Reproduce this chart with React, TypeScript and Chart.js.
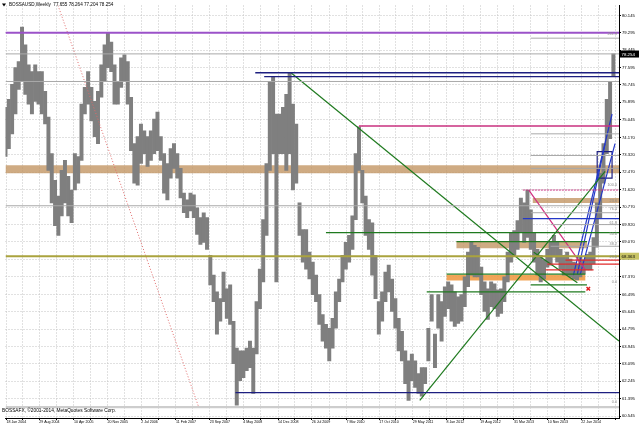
import React, { useEffect, useRef } from "react";
import { Chart, registerables } from "chart.js";

Chart.register(...registerables);

const HIGH = [
  75.65, 76.04, 76.77, 77.59, 77.88, 79.57, 78.70, 77.73, 77.39, 77.73,
  77.39, 77.39, 76.43, 75.17, 73.38, 72.08, 71.31, 72.56, 73.05, 72.27,
  71.60, 73.38, 73.24, 75.80, 76.62, 77.39, 76.62, 75.94, 76.43, 77.73,
  78.70, 79.28, 78.84, 77.73, 76.91, 78.07, 78.21, 77.88, 76.14, 73.87,
  74.21, 74.83, 74.50, 74.21, 74.50, 75.07, 75.41, 74.21, 73.38, 72.90,
  73.63, 73.87, 73.38, 72.66, 71.45, 71.12, 71.45, 71.36, 70.73, 70.25,
  70.49, 70.25, 68.41, 67.44, 66.62, 66.29, 67.59, 66.77, 66.96, 65.18,
  63.87, 63.73, 63.73, 63.87, 64.21, 63.87, 66.14, 67.73, 70.15, 72.90,
  76.91, 77.15, 75.32, 75.32, 75.65, 76.28, 77.34, 75.80, 74.83, 70.97,
  69.67, 69.67, 68.56, 68.07, 67.44, 66.48, 65.51, 65.03, 64.84, 65.32,
  66.62, 67.25, 68.41, 69.04, 69.38, 70.34, 73.38, 74.69, 72.56, 71.31,
  70.15, 70.00, 68.41, 66.14, 66.62, 67.59, 67.93, 67.25, 66.29, 65.32,
  64.69, 63.73, 63.24, 63.58, 63.24, 62.62, 62.91, 62.91, 64.84, 66.48,
  64.55, 66.48, 66.14, 66.87, 67.11, 66.96, 66.62, 66.38, 66.48, 67.35,
  68.56, 69.04, 68.89, 68.80, 67.83, 67.11, 66.77, 67.11, 67.01, 66.72,
  66.77, 67.35, 68.56, 69.52, 69.62, 70.10, 71.21, 70.97, 71.60, 70.63,
  69.52, 68.70, 68.41, 68.17, 68.70, 69.04, 69.38, 69.04, 68.70, 68.41,
  68.56, 68.22, 68.07, 67.98, 68.31, 68.17, 68.46, 68.56, 69.28, 70.97,
  72.42, 73.87, 76.04, 76.91, 78.26,
];
const LOW = [
  73.24, 73.63, 74.35, 75.32, 76.52, 76.91, 76.28, 75.80, 75.32, 75.94,
  75.80, 75.32, 74.83, 72.56, 70.97, 69.86, 69.38, 70.34, 70.97, 70.34,
  70.00, 71.60, 71.94, 73.05, 75.32, 75.80, 74.98, 74.21, 73.87, 76.14,
  76.91, 77.59, 77.39, 75.80, 75.80, 76.62, 76.91, 75.80, 73.53, 71.94,
  71.84, 72.90, 73.38, 72.76, 73.05, 73.38, 73.53, 73.05, 71.45, 71.12,
  72.18, 72.66, 72.18, 71.21, 70.49, 70.25, 70.58, 70.25, 69.43, 68.94,
  69.04, 68.70, 66.96, 66.14, 64.55, 65.18, 66.14, 65.32, 65.03, 63.10,
  61.07, 62.28, 62.42, 62.76, 62.91, 61.65, 63.58, 65.80, 67.11, 69.38,
  72.56, 73.38, 67.11, 73.38, 73.38, 72.56, 73.38, 71.60, 71.94, 69.38,
  68.07, 67.73, 67.25, 66.48, 66.14, 65.03, 64.21, 63.87, 63.24, 63.87,
  64.84, 66.14, 67.11, 67.73, 68.07, 68.70, 70.15, 72.56, 70.97, 69.38,
  68.70, 67.44, 66.29, 64.55, 65.18, 66.14, 66.62, 65.66, 64.84, 63.73,
  63.24, 62.13, 61.31, 62.28, 61.94, 61.65, 61.51, 62.13, 63.24, 65.18,
  62.91, 64.84, 64.21, 65.42, 65.80, 65.18, 64.93, 65.08, 65.18, 65.90,
  66.87, 67.44, 67.35, 67.35, 66.48, 65.66, 65.27, 65.90, 65.80, 65.42,
  65.56, 66.14, 67.11, 68.07, 68.41, 68.70, 69.52, 69.04, 69.28, 68.70,
  68.07, 67.44, 67.11, 67.25, 67.83, 67.93, 68.31, 68.07, 67.73, 67.44,
  67.44, 67.35, 67.25, 67.20, 67.35, 67.49, 67.69, 67.69, 67.98, 68.80,
  70.25, 71.94, 73.38, 74.11, 77.20,
];

const PRICE_TICKS = [
  80.145, 79.295, 78.445, 77.595, 76.745, 75.895, 75.045, 74.17, 73.32, 72.47,
  71.62, 70.77, 69.92, 69.07, 68.22, 67.37, 66.495, 65.645, 64.795, 63.945,
  63.095, 62.245, 61.395, 60.545,
];
const DATE_LABELS = [
  "18 Jan 2004", "29 Aug 2004", "10 Apr 2005", "20 Nov 2005", "2 Jul 2006",
  "11 Feb 2007", "23 Sep 2007", "4 May 2008", "14 Dec 2008", "26 Jul 2009",
  "7 Mar 2010", "17 Oct 2010", "29 May 2011", "8 Jan 2012", "19 Aug 2012",
  "31 Mar 2013", "10 Nov 2013", "22 Jun 2014",
];
// sample index at which each date label sits
const DATE_POS = [
  0.3, 10.2, 20.7, 30.9, 41.1, 51.6, 61.8, 72.0, 82.5, 92.7, 103.2, 113.1,
  123.3, 133.5, 143.7, 153.9, 164.1, 174.3,
];
const EXTRA_GRID = [179.4, 184.5];

const X_MIN = 0;
const X_MAX = 185.7;
const Y_MIN = 60.448;
const Y_MAX = 80.628;

// horizontal levels: [price, from sample, to sample]
const PURPLE_LEVELS = [[79.295, 0, 186]];
const GRAY_LEVELS = [
  [78.26, 0, 186], [76.91, 0, 186], [70.83, 0, 186],
  [79.03, 159, 186], [74.35, 159, 186], [73.29, 159, 186], [72.66, 159, 186],
  [70.49, 159, 186], [69.91, 165, 186], [68.85, 165, 186],
];
const NAVY_LEVELS = [[77.34, 75.6, 186], [77.15, 78.3, 186], [61.69, 69.6, 186]];
const BLUE_LEVELS = [[70.2, 156.6, 186]];
const MAGENTA_LEVELS = [[74.73, 107, 186]];
const PINK_DASH_LEVELS = [[71.6, 156.6, 186]];
const GREEN_LEVELS = [
  [69.52, 97, 186], [66.62, 127.5, 175.5], [69.08, 136.5, 176],
  [67.49, 133.5, 175.5], [66.96, 159, 176],
];
const OLIVE_LEVELS = [[68.36, 0, 186]];
const RED_LEVELS = [[67.98, 164, 186], [67.69, 163.5, 178], [68.17, 169.5, 186]];
// bands: [top price, bottom price, from, to]
const TAN_BANDS = [[72.81, 72.42, 0, 186], [69.1, 68.75, 136.5, 176], [71.21, 70.97, 159.6, 186]];
const ORANGE_BANDS = [[67.44, 67.17, 133.5, 175.5]];
const LIGHT_BANDS = [[61.03, 60.92, 0, 186]];
// diagonals: [x1, price1, x2, price2]
const GREEN_DIAG = [[86.4, 77.34, 185.7, 64.21], [125.4, 61.31, 181.5, 72.51], [159.9, 68.56, 173.1, 67.06]];
const RED_DOT_DIAG = [[15.9, 80.63, 58.5, 60.97]];
const PINK_DIAG = [[158.4, 71.6, 175.5, 67.69]];
const BLUE_DIAG = [[171.9, 67.44, 183.6, 75.32], [173.1, 67.49, 181.5, 73.87], [174, 67.49, 184.5, 73.87]];
const NAVY_BOX = [179.1, 183.6, 72.18, 73.48];
const RED_MARK = [176.4, 66.77];
const FIB_LABELS: [string, number][] = [
  ["261.8", 79.13], ["100.0", 71.74], ["23.6", 70.97], ["76.4", 70.58], ["61.8", 69.91],
  ["50.0", 69.38], ["38.2", 68.85], ["23.6", 68.22], ["0.0", 67.01], ["0.0", 61.12],
];
const LAST_PRICE = 78.254;
const OLIVE_TAG = 68.363;
const TITLE = "BOSSAUSD,Weekly  77.655 78.264 77.204 78.254";
const COPYRIGHT = "BOSSAFX, \u00a92001-2014, MetaQuotes Software Corp.";

const FAMILY = '"Liberation Sans", Arial, sans-serif';

export default function App() {
  const ref = useRef<HTMLCanvasElement>(null);

  useEffect(() => {
    document.body.style.margin = "0";
    const canvas = ref.current;
    if (!canvas) return;

    const lineDs = (pts: number[][], color: string, width: number, dash: number[] = [], order = 1) => ({
      type: "line" as const,
      data: pts.map(([x, y]) => ({ x, y })),
      borderColor: color,
      borderWidth: width,
      borderDash: dash,
      borderCapStyle: "butt",
      pointRadius: 0,
      pointHoverRadius: 0,
      fill: false,
      tension: 0,
      order,
      clip: 0,
    });
    const levels = (arr: number[][], color: string, width: number, dash: number[] = []) =>
      arr.map(([p, a, b]) => lineDs([[a, p], [b, p]], color, width, dash));
    const diags = (arr: number[][], color: string, width: number, dash: number[] = []) =>
      arr.map(([x1, p1, x2, p2]) => lineDs([[x1, p1], [x2, p2]], color, width, dash));
    const bands = (arr: number[][], color: string) =>
      arr.map(([t, b, a, c]) => {
        const mid = (t + b) / 2;
        const ds: any = lineDs([[a, mid], [c, mid]], color, 1, [], 10);
        ds.borderWidth = (ctx: any) => {
          const ys = ctx.chart.scales.y;
          if (!ys) return 5;
          return Math.max(1, Math.abs(ys.getPixelForValue(b) - ys.getPixelForValue(t)));
        };
        return ds;
      });

    const gridPos = [...DATE_POS];
    for (let i = 0; i < DATE_POS.length - 1; i++) gridPos.push((DATE_POS[i] + DATE_POS[i + 1]) / 2);
    gridPos.push(...EXTRA_GRID);
    gridPos.sort((a, b) => a - b);

    const [bx1, bx2, bp1, bp2] = NAVY_BOX;

    const datasets: any[] = [
      ...bands(LIGHT_BANDS, "#cdcdcd"),
      ...bands(TAN_BANDS, "rgba(196,152,104,0.82)"),
      ...bands(ORANGE_BANDS, "rgba(240,155,70,0.9)"),
      {
        type: "bar",
        data: HIGH.map((h, i) => ({ x: i, y: [LOW[i], h] })),
        backgroundColor: "#7f7f7f",
        borderWidth: 0,
        barPercentage: 1,
        categoryPercentage: 1,
        grouped: false,
        order: 5,
      },
      ...levels(GRAY_LEVELS, "#a9a9a9", 1),
      ...levels(PURPLE_LEVELS, "#9b52c9", 2),
      ...levels(OLIVE_LEVELS, "#aaa33e", 1.8),
      ...levels(NAVY_LEVELS, "#1d1f80", 1.4),
      ...levels(BLUE_LEVELS, "#2438c8", 1.4),
      ...levels(MAGENTA_LEVELS, "#c8307f", 1.4),
      ...levels(PINK_DASH_LEVELS, "#c8307f", 1, [2, 1]),
      ...levels(GREEN_LEVELS, "#1f7a1f", 1.3),
      ...levels(RED_LEVELS, "#e02a2a", 1.2),
      ...diags(GREEN_DIAG, "#1f7a1f", 1.2),
      ...diags(RED_DOT_DIAG, "#e06a6a", 1, [1, 2]),
      ...diags(PINK_DIAG, "#d0307f", 1.2),
      ...diags(BLUE_DIAG, "#2438c8", 1.2),
      lineDs([[bx1, bp1], [bx1, bp2], [bx2, bp2], [bx2, bp1], [bx1, bp1]], "#1d1f80", 1.2),
      {
        type: "scatter",
        data: [{ x: RED_MARK[0], y: RED_MARK[1] }],
        pointStyle: "crossRot",
        pointRadius: 2.5,
        borderColor: "#e02020",
        borderWidth: 1.5,
        order: 0,
      },
    ];

    const overlay = {
      id: "overlay",
      afterDraw(chart: any) {
        const { ctx, chartArea, scales } = chart;
        const ys = scales.y;
        ctx.save();
        // title
        ctx.fillStyle = "#000";
        ctx.beginPath();
        ctx.moveTo(2, 3.5);
        ctx.lineTo(6, 3.5);
        ctx.lineTo(4, 6.5);
        ctx.closePath();
        ctx.fill();
        ctx.font = `4.6px ${FAMILY}`;
        ctx.textBaseline = "middle";
        ctx.textAlign = "left";
        ctx.fillText(TITLE, 9, 5);
        // copyright
        ctx.font = `4.8px ${FAMILY}`;
        ctx.fillText(COPYRIGHT, 2, 411);
        // fib labels
        ctx.fillStyle = "#8a8a8a";
        ctx.font = `3.8px ${FAMILY}`;
        ctx.textAlign = "right";
        ctx.textBaseline = "bottom";
        for (const [t, p] of FIB_LABELS) {
          ctx.fillText(t, chartArea.right - 2, ys.getPixelForValue(p));
        }
        // price tags on the axis
        const tag = (p: number, bg: string, fg: string) => {
          const yy = ys.getPixelForValue(p);
          ctx.fillStyle = bg;
          ctx.fillRect(chartArea.right + 1, yy - 3.5, 19, 7);
          ctx.fillStyle = fg;
          ctx.font = `4.4px ${FAMILY}`;
          ctx.textAlign = "left";
          ctx.textBaseline = "middle";
          ctx.fillText(p.toFixed(3), chartArea.right + 2.5, yy + 0.3);
        };
        tag(LAST_PRICE, "#000", "#fff");
        tag(OLIVE_TAG, "#c8c466", "#000");
        ctx.restore();
      },
    };

    const chart = new Chart(canvas, {
      type: "line",
      data: { datasets },
      options: {
        responsive: false,
        animation: false,
        devicePixelRatio: 1,
        events: [],
        layout: { padding: 0 },
        plugins: { legend: { display: false }, tooltip: { enabled: false }, title: { display: false } },
        scales: {
          x: {
            type: "linear",
            min: X_MIN,
            max: X_MAX,
            offset: false,
            afterBuildTicks: (s: any) => {
              s.ticks = gridPos.map((v) => ({ value: v }));
            },
            afterFit: (s: any) => {
              s.height = 9;
              s.paddingLeft = 0;
              s.paddingRight = 0;
            },
            ticks: {
              autoSkip: false,
              maxRotation: 0,
              minRotation: 0,
              align: "start",
              padding: 0,
              color: "#000",
              font: { size: 3.6, family: FAMILY },
              callback: (v: any) => {
                const k = DATE_POS.indexOf(Number(v));
                return k >= 0 ? DATE_LABELS[k] : "";
              },
            },
            grid: { color: "#c2c2c2", lineWidth: 1, tickLength: 2, tickColor: "#000", offset: false },
            border: { display: true, color: "#000", width: 1, dash: [1, 2] },
          },
          y: {
            type: "linear",
            position: "right",
            min: Y_MIN,
            max: Y_MAX,
            beginAtZero: false,
            afterBuildTicks: (s: any) => {
              s.ticks = PRICE_TICKS.map((v) => ({ value: v }));
            },
            afterFit: (s: any) => {
              s.width = 21;
              s.paddingTop = 0;
              s.paddingBottom = 0;
            },
            ticks: {
              autoSkip: false,
              padding: 1,
              color: "#000",
              font: { size: 4.2, family: FAMILY },
              callback: (v: any) => Number(v).toFixed(3),
            },
            grid: { color: "#c2c2c2", lineWidth: 1, tickLength: 2, tickColor: "#000" },
            border: { display: true, color: "#000", width: 1, dash: [1, 2] },
          },
        },
      } as any,
      plugins: [overlay],
    });
    return () => chart.destroy();
  }, []);

  return <canvas ref={ref} width={640} height={427} style={{ display: "block" }} />;
}
